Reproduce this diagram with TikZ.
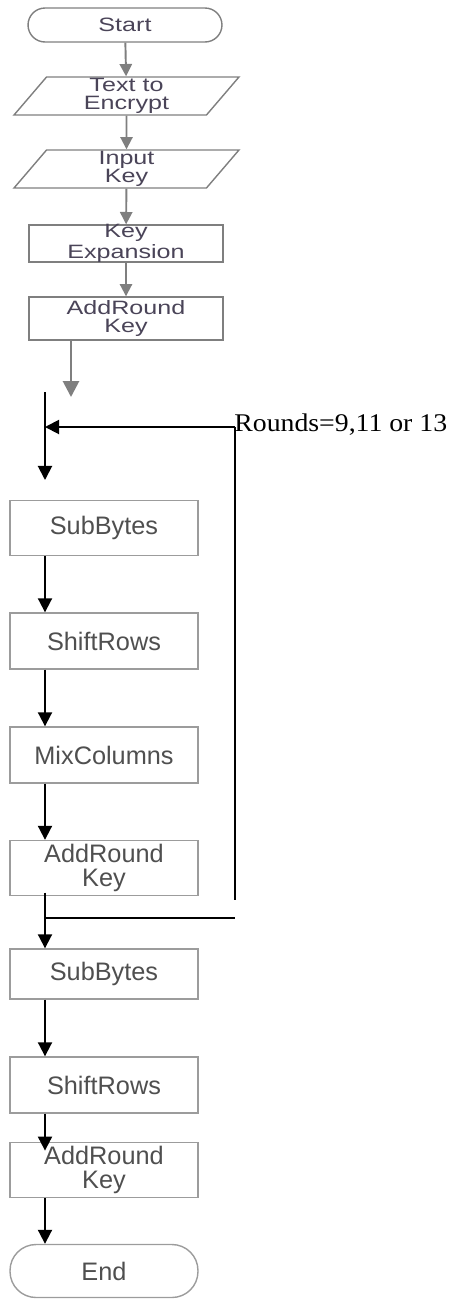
\documentclass[tikz,border=0pt]{standalone}
\usepackage{fontspec}
\setmainfont{Liberation Sans}
\newfontfamily\topfont[FakeStretch=1.3]{Liberation Sans}
\newfontfamily\notefont[FakeStretch=1.09]{Liberation Serif}
\usetikzlibrary{shapes.geometric,arrows.meta}
\definecolor{boxgray}{HTML}{7F7F7F}
\definecolor{topink}{HTML}{4A4458}
\definecolor{lowink}{HTML}{4F4F4F}
\definecolor{lightedge}{HTML}{9C9C9C}
\tikzstyle{topbox}=[rectangle,draw=boxgray,line width=0.8pt,minimum width=3.88cm,inner sep=0pt,align=center,text=topink,font=\topfont\fontsize{11}{10}\selectfont]
\tikzstyle{topterm}=[topbox,rounded corners=0.34cm,minimum height=0.68cm]
\tikzstyle{io}=[topbox,trapezium,trapezium left angle=47,trapezium right angle=133,trapezium stretches body,minimum width=4.5cm,minimum height=0.76cm]
\tikzstyle{stage}=[rectangle,draw=lightedge,line width=0.8pt,minimum width=3.76cm,minimum height=1.1cm,inner sep=0pt,align=center,text=lowink,font=\fontsize{14.4}{16}\selectfont]
\tikzstyle{lowterm}=[stage,rounded corners=0.52cm,minimum height=1.06cm]
\tikzstyle{grayflow}=[draw=boxgray,line width=1.1pt,-{Triangle[length=7pt,width=7pt]}]
\tikzstyle{flow}=[draw=black,line width=1.1pt,-{Triangle[length=8pt,width=8pt]}]

\begin{document}
\begin{tikzpicture}[x=0.02cm,y=-0.02cm]
\useasboundingbox (0,0) rectangle (450,1299);
\node[topterm] at (125, 25) (start) {Start};
\node[io] at (126.5, 96) (text) {Text to\\Encrypt};
\node[io] at (126.5, 169) (input) {Input\\Key};
\node[topbox, minimum height=0.74cm] at (126, 243.5) (expand) {\raisebox{-3pt}[0pt][0pt]{\begin{tabular}{@{}c@{}}Key\\[0.5pt]Expansion\end{tabular}}};
\node[topbox, minimum height=0.86cm] at (126, 318.5) (addkey0) {AddRound\\Key};
\draw[grayflow] (start) -- (text);
\draw[grayflow] (text) -- (input);
\draw[grayflow] (input) -- (expand);
\draw[grayflow] (expand) -- (addkey0);
\coordinate (gtip) at (71, 397);
\draw[grayflow, line width=1.6pt, -{Triangle[length=9pt,width=9pt]}] (addkey0.south -| gtip) -- (gtip);

\node[stage] at (104, 528) (sub1) {SubBytes};
\node[stage, minimum height=1.12cm] at (104, 641) (shift1) {ShiftRows};
\node[stage, minimum height=1.12cm] at (104, 755) (mix) {MixColumns};
\node[stage] at (104, 868) (addkey1) {AddRound\\[-2pt]Key};
\node[stage, minimum height=1.0cm] at (104, 974) (sub2) {SubBytes};
\node[stage, minimum height=1.12cm] at (104, 1085) (shift2) {ShiftRows};
\node[stage] at (104, 1170) (addkey2) {AddRound\\[-2pt]Key};
\node[lowterm] at (104, 1271) (end) {End};

% loop back
\coordinate (top) at (45, 392);
\coordinate (join) at (45, 427);
\coordinate (down) at (45, 480);
\coordinate (back) at (235, 427);
\coordinate (backlow) at (235, 900);
\coordinate (split) at (45, 918);
\coordinate (splitr) at (235, 918);
\draw[flow] (top) -- (down);
\draw[flow] (back) -- (join);
\draw[line width=1.1pt] (back) -- (backlow);
\draw[line width=1.1pt] (split) -- (splitr);
\node[anchor=west, inner sep=0pt, font=\notefont\fontsize{14.5}{17}\selectfont] at (234, 425) (rounds) {Rounds=9,11 or 13};

\draw[flow] (sub1.south -| top) -- (shift1.north -| top);
\draw[flow] (shift1.south -| top) -- (mix.north -| top);
\draw[flow] (mix.south -| top) -- (addkey1.north -| top);
\draw[flow] ([yshift=2pt]addkey1.south -| top) -- (sub2.north -| top);
\draw[flow] (sub2.south -| top) -- (shift2.north -| top);
\draw[flow, shorten >=-5pt] (shift2.south -| top) -- (addkey2.north -| top);
\draw[flow] (addkey2.south -| top) -- (end.north -| top);
\end{tikzpicture}
\end{document}
